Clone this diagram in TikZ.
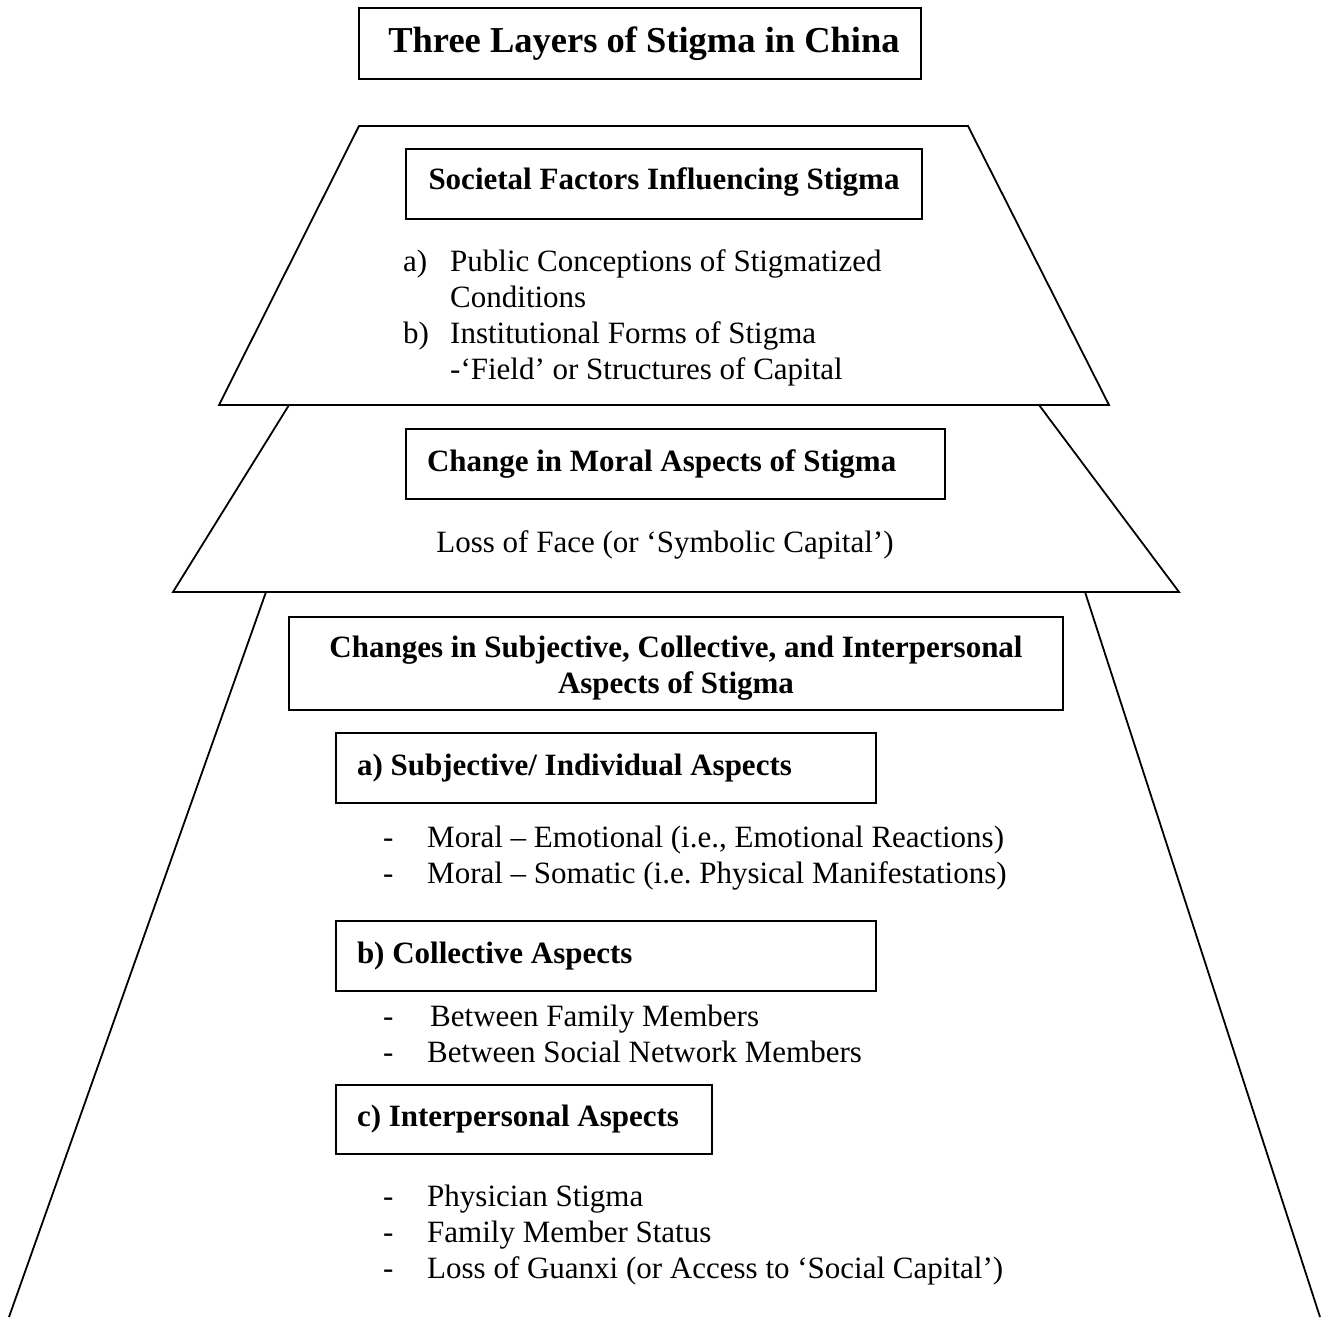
\documentclass[tikz,border=0pt]{standalone}
\usepackage{fontspec}
\setmainfont{Liberation Serif}
\frenchspacing
\begin{document}
\begin{tikzpicture}[x=1pt,y=-1pt,
  every node/.style={inner sep=0pt, font=\fontsize{31}{36}\selectfont},
  edge/.style={line width=1.8pt, line join=miter},
  hbox/.style={draw, line width=1.8pt, font=\bfseries\fontsize{31}{36}\selectfont},
  lbox/.style={hbox, text width=#1, inner xsep=21pt, align=flush left, minimum height=70},
  txt/.style={anchor=base west}]
\useasboundingbox (0,0) rectangle (1329,1317);
% layers
\draw[edge] (359,126) -- (968,126) -- (1109,405) -- (219,405) -- cycle;
\draw[edge] (289,405) -- (173,592) -- (1179,592) -- (1039,405);
\draw[edge] (9,1317) -- (266,592);
\draw[edge] (1085,592) -- (1320,1317);
% title
\node[hbox, font=\bfseries\fontsize{36.5}{40}\selectfont, minimum width=562, minimum height=71] (title) at (640,43.5) {\hspace{8pt}Three Layers of Stigma in China};
% layer 1
\node[hbox, minimum width=516, minimum height=70] (soc) at (664,184) {Societal Factors Influencing Stigma\rule[-11pt]{0pt}{1pt}};
\node[txt] (la) at (403,271) {a)};
\node[txt] (l1) at (450,271) {Public Conceptions of Stigmatized};
\node[txt] (l2) at (450,307) {Conditions};
\node[txt] (lb) at (403,343) {b)};
\node[txt] (l3) at (450,343) {Institutional Forms of Stigma};
\node[txt] (l4) at (450,379) {-‘Field’ or Structures of Capital};
% layer 2
\node[lbox=497] (moral) at (675.5,464) {Change in Moral Aspects of Stigma};
\node[anchor=base] (face) at (665,552) {Loss of Face (or ‘Symbolic Capital’)};
% layer 3
\node[hbox, minimum width=774, minimum height=93, align=center] (chg) at (676,663.5) {\rule{0pt}{31pt}Changes in Subjective, Collective, and Interpersonal\\Aspects of Stigma};
\node[lbox=498] (sa) at (606,768) {a) Subjective/ Individual Aspects};
\node[txt] (sa1d) at (383,847) {-};
\node[txt] (sa1) at (427,847) {Moral – Emotional (i.e., Emotional Reactions)};
\node[txt] (sa2d) at (383,883) {-};
\node[txt] (sa2) at (427,883) {Moral – Somatic (i.e. Physical Manifestations)};
\node[lbox=498] (sb) at (606,956) {b) Collective Aspects};
\node[txt] (sb1d) at (383,1026) {-};
\node[txt] (sb1) at (430,1026) {Between Family Members};
\node[txt] (sb2d) at (383,1062) {-};
\node[txt] (sb2) at (427,1062) {Between Social Network Members};
\node[lbox=334, minimum height=69] (sc) at (524,1119.5) {c) Interpersonal Aspects};
\node[txt] (sc1d) at (383,1206) {-};
\node[txt] (sc1) at (427,1206) {Physician Stigma};
\node[txt] (sc2d) at (383,1242) {-};
\node[txt] (sc2) at (427,1242) {Family Member Status};
\node[txt] (sc3d) at (383,1278) {-};
\node[txt] (sc3) at (427,1278) {Loss of Guanxi (or Access to ‘Social Capital’)};
\end{tikzpicture}
\end{document}
